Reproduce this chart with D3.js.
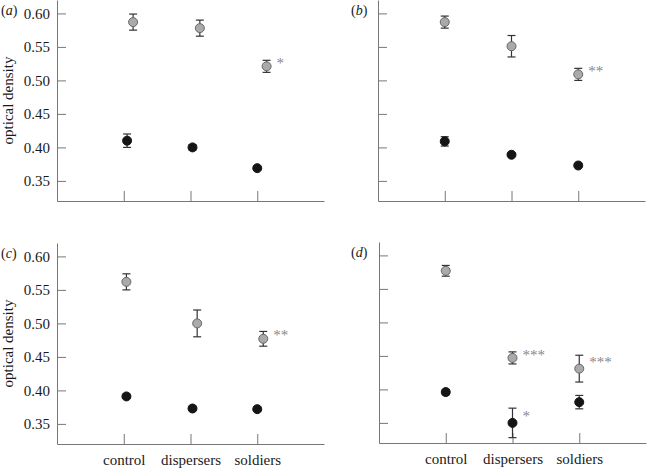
<!DOCTYPE html>
<html>
<head>
<meta charset="utf-8">
<script src="https://cdn.jsdelivr.net/npm/d3@7"></script>
<style>
  body { margin: 0; background: #fff; }
  svg, svg text { font-family: "Liberation Serif", "Times New Roman", Times, "DejaVu Serif", serif; }
</style>
</head>
<body>
<div class="chart"></div>
<script>
// categories and tick values
var categories = ["control", "dispersers", "soldiers"];
var yTicks = [0.35, 0.40, 0.45, 0.50, 0.55, 0.60];

// grey series (mean, error) per panel
var greyA = [0.587, 0.578, 0.521], greyErrA = [0.012, 0.012, 0.009];
var greyB = [0.587, 0.551, 0.509], greyErrB = [0.009, 0.016, 0.009];
var greyC = [0.562, 0.500, 0.477], greyErrC = [0.012, 0.020, 0.011];
var greyD = [0.577, 0.447, 0.431], greyErrD = [0.008, 0.009, 0.020];

// black series (mean, error) per panel
var blackA = [0.410, 0.400, 0.369], blackErrA = [0.010, 0.004, 0.002];
var blackB = [0.409, 0.389, 0.373], blackErrB = [0.007, 0.002, 0.002];
var blackC = [0.391, 0.373, 0.372], blackErrC = [0.003, 0.003, 0.003];
var blackD = [0.396, 0.350, 0.381], blackErrD = [0.004, 0.022, 0.010];

// significance marks
var greyStarsA = ["", "", "*"], blackStarsA = ["", "", ""];
var greyStarsB = ["", "", "**"], blackStarsB = ["", "", ""];
var greyStarsC = ["", "", "**"], blackStarsC = ["", "", ""];
var greyStarsD = ["", "***", "***"], blackStarsD = ["", "*", ""];

var FONT = '"Liberation Serif", "Times New Roman", Times, "DejaVu Serif", serif';

var panels = [
  { label: "a", grey: greyA, greyErr: greyErrA, black: blackA, blackErr: blackErrA,
    greyStars: greyStarsA, blackStars: blackStarsA,
    left: 57, bottom: 201, yLabels: true, xLabels: false,
    greyShift: [0.14, 0.14, 0.14], blackShift: [0.05, 0.03, 0] },
  { label: "b", grey: greyB, greyErr: greyErrB, black: blackB, blackErr: blackErrB,
    greyStars: greyStarsB, blackStars: blackStarsB,
    left: 378, bottom: 201, yLabels: false, xLabels: false,
    greyShift: [0, 0, 0], blackShift: [0, 0, 0] },
  { label: "c", grey: greyC, greyErr: greyErrC, black: blackC, blackErr: blackErrC,
    greyStars: greyStarsC, blackStars: blackStarsC,
    left: 57, bottom: 444, yLabels: true, xLabels: true,
    greyShift: [0.04, 0.10, 0.09], blackShift: [0.04, 0.03, 0] },
  { label: "d", grey: greyD, greyErr: greyErrD, black: blackD, blackErr: blackErrD,
    greyStars: greyStarsD, blackStars: blackStarsD,
    left: 379, bottom: 443, yLabels: false, xLabels: true,
    greyShift: [0, 0, 0], blackShift: [0, 0, 0] }
];

var width = 647, height = 468;
var plotW = 267, plotH = 201;
var axisColor = "#777";
var textColor = "#1a1a1a";

var svg = d3.select(".chart").append("svg")
  .attr("width", width)
  .attr("height", height)
  .attr("font-family", FONT);

function drawPanel(p) {
  var x = d3.scaleLinear().domain([0, 4]).range([p.left, p.left + plotW]);
  var y = d3.scaleLinear().domain([0.32, 0.62]).range([p.bottom, p.bottom - plotH]);

  var g = svg.append("g");

  var yAxis = d3.axisLeft(y)
    .tickValues(yTicks)
    .tickSizeInner(-9)
    .tickSizeOuter(0)
    .tickPadding(7)
    .tickFormat(p.yLabels ? d3.format(".2f") : () => "");

  var xAxis = d3.axisBottom(x)
    .tickValues([1, 2, 3])
    .tickSizeInner(-10)
    .tickSizeOuter(0)
    .tickPadding(10)
    .tickFormat(p.xLabels ? (d => categories[d - 1]) : () => "");

  var ya = g.append("g")
    .attr("transform", `translate(${p.left},0)`)
    .call(yAxis);
  var xa = g.append("g")
    .attr("transform", `translate(0,${p.bottom})`)
    .call(xAxis);

  [ya, xa].forEach(a => {
    a.attr("font-family", FONT).attr("font-size", 15);
    a.selectAll("path, line").attr("stroke", axisColor);
    a.selectAll("text").attr("fill", textColor);
  });

  if (p.yLabels) {
    g.append("text")
      .attr("transform", `translate(13,${y(0.47)}) rotate(-90)`)
      .attr("text-anchor", "middle")
      .attr("fill", textColor)
      .attr("font-size", 15)
      .text("optical density");
  }

  g.append("text")
    .attr("x", p.yLabels ? 1 : 351)
    .attr("y", p.bottom - plotH + 15)
    .attr("fill", textColor)
    .attr("font-size", 14)
    .html(`(<tspan font-style="italic">${p.label}</tspan>)`);

  var series = [
    { vals: p.grey, errs: p.greyErr, stars: p.greyStars, shift: p.greyShift,
      fill: "#aaa", stroke: "#666" },
    { vals: p.black, errs: p.blackErr, stars: p.blackStars, shift: p.blackShift,
      fill: "#151515", stroke: "#151515" }
  ];

  series.forEach(s => {
    var pts = s.vals.map((v, i) => ({
      cx: x(i + 1 + s.shift[i]), v: v, e: s.errs[i], star: s.stars[i]
    }));

    var bars = g.append("g").attr("stroke", "#333").attr("stroke-width", 1.2);
    bars.selectAll(".stem").data(pts).enter().append("line")
      .attr("x1", d => d.cx).attr("x2", d => d.cx)
      .attr("y1", d => y(d.v + d.e)).attr("y2", d => y(d.v - d.e));
    bars.selectAll(".capTop").data(pts).enter().append("line")
      .attr("x1", d => d.cx - 4).attr("x2", d => d.cx + 4)
      .attr("y1", d => y(d.v + d.e)).attr("y2", d => y(d.v + d.e));
    bars.selectAll(".capBot").data(pts).enter().append("line")
      .attr("x1", d => d.cx - 4).attr("x2", d => d.cx + 4)
      .attr("y1", d => y(d.v - d.e)).attr("y2", d => y(d.v - d.e));

    g.selectAll(null).data(pts).enter().append("circle")
      .attr("cx", d => d.cx)
      .attr("cy", d => y(d.v))
      .attr("r", 4.5)
      .attr("fill", s.fill)
      .attr("stroke", s.stroke)
      .attr("stroke-width", 1);

    g.selectAll(null).data(pts.filter(d => d.star)).enter().append("text")
      .attr("x", d => d.cx + 10)
      .attr("y", d => (y(d.v) + y(d.v + d.e)) / 2 + 5)
      .attr("fill", "#888")
      .attr("font-size", 15)
      .text(d => d.star);
  });
}

panels.forEach(drawPanel);
</script>
</body>
</html>
